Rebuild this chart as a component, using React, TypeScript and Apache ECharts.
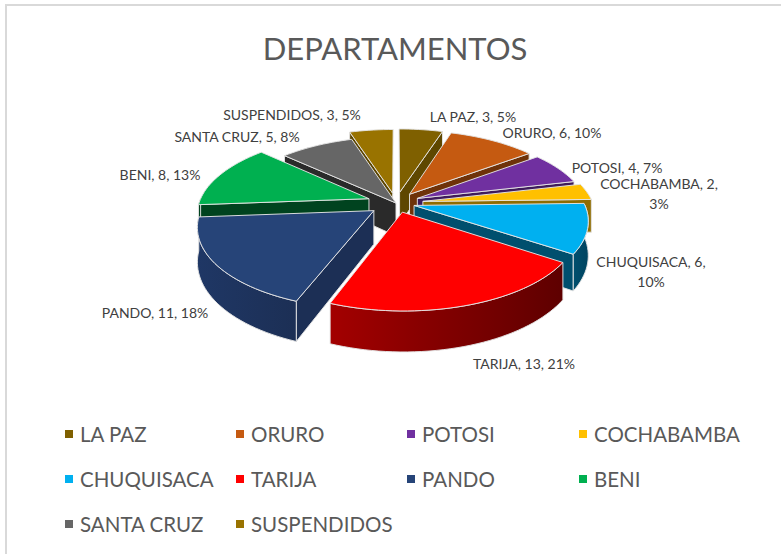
import React, { useEffect, useRef } from "react";
import * as echarts from "echarts";

const categories = ["LA PAZ", "ORURO", "POTOSI", "COCHABAMBA", "CHUQUISACA", "TARIJA", "PANDO", "BENI", "SANTA CRUZ", "SUSPENDIDOS"];
const values = [3, 6, 4, 2, 6, 13, 11, 8, 5, 3];

const topColors = ["#7f6000", "#c55a11", "#7030a0", "#ffc000", "#00b0f0", "#ff0000", "#264478", "#00b050", "#666666", "#997300"];
const wallLeft = ["#5e4700", "#6e3209", "#3f1b5b", "#8f6c00", "#004f6e", "#a30000", "#1f3765", "#00431f", "#2a2a2a", "#5c4500"];
const wallRight = ["#5e4700", "#6e3209", "#3f1b5b", "#8f6c00", "#004460", "#5e0000", "#1c2f55", "#00431f", "#2a2a2a", "#5c4500"];
const explode = [0.14, 0.14, 0.14, 0.16, 0.11, 0.12, 0.16, 0.17, 0.0, 0.13];
const labelPos = [[473, 116], [552, 132], [617, 167], [659, 193], [651, 271], [524, 363], [155, 312], [160, 174], [237, 136], [292, 114]];
const labelWrap = [false, false, false, true, true, false, false, false, false, false];
const legendColumns = [
  { left: 60, items: ["LA PAZ", "CHUQUISACA", "SANTA CRUZ"] },
  { left: 231, items: ["ORURO", "TARIJA", "SUSPENDIDOS"] },
  { left: 402, items: ["POTOSI", "PANDO"] },
  { left: 574, items: ["COCHABAMBA", "BENI"] },
];

const CX = 396, CY = 203, RX = 170, RY = 78, PERSP = 0.175, DEPTH = 33;
const FONT = "Lato, 'Open Sans', sans-serif";
const EDGE = "rgba(228,228,228,0.95)";

const total = values.reduce((a, b) => a + b, 0);
const rad = (d: number) => (d * Math.PI) / 180;

function project(X: number, Z: number, bottom = false): number[] {
  const s = 1 / (1 + PERSP * Z);
  return [CX + RX * X * s, CY - RY * Z * s + (bottom ? DEPTH * s : 0)];
}

function sliceChildren(i: number, value: number) {
  let before = 0;
  for (let k = 0; k < i; k++) before += values[k];
  const a0 = (before / total) * 360;
  const a1 = ((before + value) / total) * 360;
  const mid = rad((a0 + a1) / 2);
  const ox = explode[i] * Math.sin(mid);
  const oz = explode[i] * Math.cos(mid);
  const rim = (deg: number, bottom = false) => project(ox + Math.sin(rad(deg)), oz + Math.cos(rad(deg)), bottom);
  const apex = project(ox, oz);
  const apexB = project(ox, oz, true);
  const arc = (from: number, to: number, bottom = false) => {
    const pts: number[][] = [];
    const n = Math.max(2, Math.ceil(Math.abs(to - from) / 2));
    for (let k = 0; k <= n; k++) pts.push(rim(from + ((to - from) * k) / n, bottom));
    return pts;
  };
  const children: any[] = [];
  const wall = (deg: number, fill: string) => ({
    type: "polygon",
    shape: { points: [apex, rim(deg), rim(deg, true), apexB] },
    style: { fill, stroke: EDGE, lineWidth: 1, lineJoin: "round" },
  });
  // inner cut faces that look towards the viewer
  if (Math.sin(rad(a0)) < -0.01) children.push(wall(a0, wallRight[i]));
  if (Math.sin(rad(a1)) > 0.01) children.push(wall(a1, wallLeft[i]));
  // curved outer face: only the front half is seen
  const f0 = Math.max(a0, 90);
  const f1 = Math.min(a1, 270);
  if (f1 > f0) {
    const top = arc(f0, f1);
    const bot = arc(f0, f1, true).reverse();
    children.push({
      type: "polygon",
      shape: { points: [...top, ...bot] },
      style: {
        fill: new echarts.graphic.LinearGradient(0, 0, 1, 0, [
          { offset: 0, color: wallLeft[i] },
          { offset: 1, color: wallRight[i] },
        ]),
        stroke: EDGE,
        lineWidth: 1,
        lineJoin: "round",
      },
    });
  }
  children.push({
    type: "polygon",
    shape: { points: [apex, ...arc(a0, a1)] },
    style: { fill: topColors[i], stroke: EDGE, lineWidth: 1, lineJoin: "round" },
  });
  return children;
}

const depthRank = values.map((_, i) => {
  let before = 0;
  for (let k = 0; k < i; k++) before += values[k];
  const mid = rad(((before + values[i] / 2) / total) * 360);
  return Math.cos(mid);
});

export default function App() {
  const ref = useRef<HTMLDivElement>(null);
  useEffect(() => {
    document.body.style.margin = "0";
    const chart = echarts.init(ref.current!, undefined, { renderer: "svg" });
    const order = depthRank.map((c, i) => [c, i]).sort((a, b) => b[0] - a[0]).map((p) => p[1]);
    const series = categories.map((name, i) => ({
      type: "custom",
      name,
      coordinateSystem: "none",
      z: 3 + order.indexOf(i),
      silent: true,
      itemStyle: { color: topColors[i] },
      data: [[values[i]]],
      renderItem: (_: any, api: any) => ({ type: "group", children: sliceChildren(i, api.value(0)) }),
    }));
    const labels = categories.map((name, i) => {
      const pct = Math.round((values[i] / total) * 100);
      const text = labelWrap[i] ? `${name}, ${values[i]},\n${pct}%` : `${name}, ${values[i]}, ${pct}%`;
      return {
        type: "text",
        z: 50,
        x: labelPos[i][0],
        y: labelPos[i][1],
        style: { text, fill: "#404040", font: `14px ${FONT}`, align: "center", verticalAlign: "middle", lineHeight: 20 },
      };
    });
    chart.setOption({
      animation: false,
      backgroundColor: "#ffffff",
      title: {
        text: "DEPARTAMENTOS",
        left: 390,
        top: 27,
        textAlign: "center",
        textStyle: { color: "#595959", fontFamily: FONT, fontWeight: "normal", fontSize: 31 },
      },
      legend: legendColumns.map((c) => ({
        data: c.items,
        orient: "vertical",
        left: c.left,
        top: 416,
        itemGap: 19,
        itemWidth: 8,
        itemHeight: 8,
        icon: "rect",
        selectedMode: false,
        textStyle: { color: "#595959", fontFamily: FONT, fontSize: 20.5, padding: [0, 0, 0, 2], lineHeight: 26 },
      })),
      graphic: [
        {
          type: "rect",
          z: 0,
          shape: { x: 6, y: 5, width: 800, height: 600 },
          style: { fill: "#ffffff", stroke: "#d9d9d9", lineWidth: 2 },
        },
        ...labels,
      ],
      series,
    });
    return () => chart.dispose();
  }, []);
  return <div ref={ref} style={{ width: 781, height: 554 }} />;
}
